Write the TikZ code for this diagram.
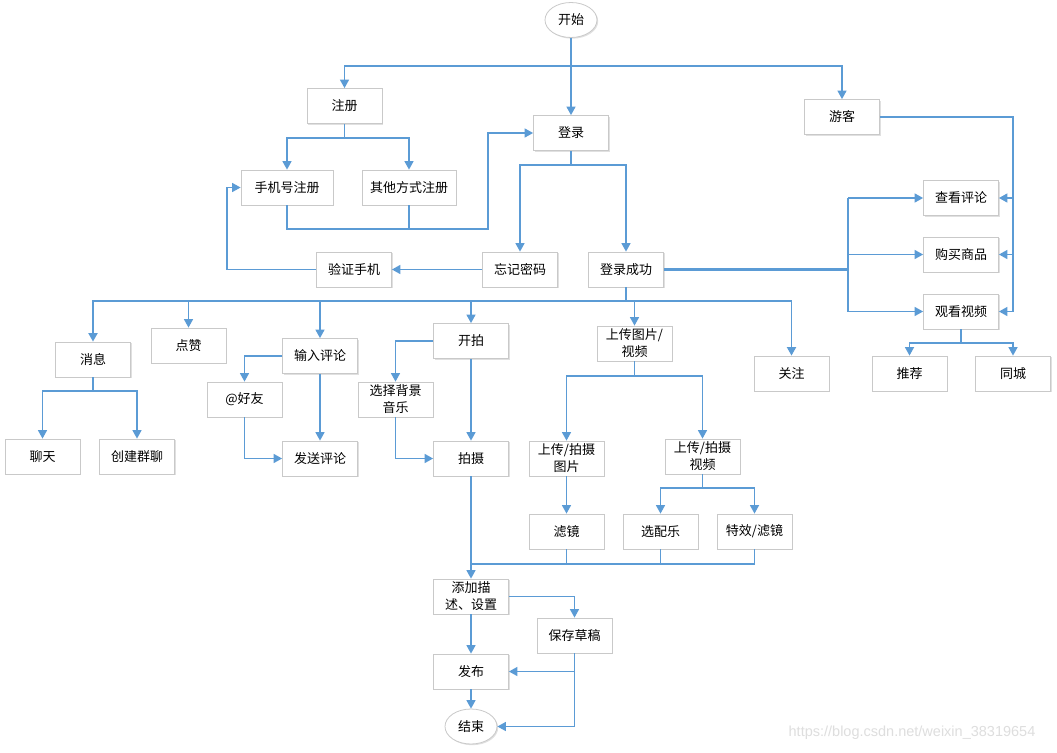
\documentclass[tikz,border=0pt]{standalone}
\usepackage{fontspec}
\setmainfont{Noto Sans CJK SC}
\newfontfamily\wmfont{Liberation Sans}
\usetikzlibrary{arrows.meta,shapes.geometric,shadows}
\definecolor{lineblue}{HTML}{5B9BD5}
\definecolor{boxgray}{HTML}{C9C9C9}
\tikzset{
  box/.style={draw=boxgray, line width=0.8pt, fill=white, minimum width=75pt, minimum height=35pt,
    inner sep=1pt, align=center, font=\fontsize{13}{17}\selectfont,
    drop shadow={shadow xshift=1.2pt, shadow yshift=-1.2pt, fill=black, opacity=0.12}},
  oval/.style={box, ellipse, minimum width=52pt, minimum height=35pt},
  conn/.style={draw=lineblue, line width=1.5pt},
  arr/.style={conn, -{Triangle[length=8.5pt,width=9pt]}},
}
\begin{document}
\begin{tikzpicture}[x=1pt,y=-1pt]
\useasboundingbox[fill=white] (0,0) rectangle (1057,752);
% nodes
\node[oval] (start) at (571,20) {开始};
\node[box] (reg) at (344.5,106) {注册};
\node[box] (login) at (571,133) {登录};
\node[box] (guest) at (842,117) {游客};
\node[box, minimum width=92pt] (phreg) at (287,187.5) {手机号注册};
\node[box, minimum width=94pt] (othreg) at (409,187.5) {其他方式注册};
\node[box] (verify) at (354,269.5) {验证手机};
\node[box] (forgot) at (520,269.5) {忘记密码};
\node[box] (succ) at (626,269.5) {登录成功};
\node[box] (viewc) at (961,198) {查看评论};
\node[box] (buy) at (961,254.5) {购买商品};
\node[box] (watch) at (961,311.5) {观看视频};
\node[box] (rec) at (909.5,373.5) {推荐};
\node[box] (city) at (1013,373.5) {同城};
\node[box] (follow) at (791.5,373.5) {关注};
\node[box] (msg) at (93,359.5) {消息};
\node[box] (like) at (188.5,345.5) {点赞};
\node[box] (input) at (320,356) {输入评论};
\node[box] (at) at (244.5,399.5) {@好友};
\node[box] (chat) at (42.5,456.5) {聊天};
\node[box] (group) at (137,456.5) {创建群聊};
\node[box] (send) at (320,458.5) {发送评论};
\node[box] (shoot) at (471,341) {开拍};
\node[box] (bgm) at (395.5,399.5) {选择背景\\音乐};
\node[box] (take) at (471,458.5) {拍摄};
\node[box] (upload) at (634.5,343.5) {上传图片/\\视频};
\node[box] (upimg) at (566.5,458.5) {上传/拍摄\\图片};
\node[box] (upvid) at (702.5,456.5) {上传/拍摄\\视频};
\node[box] (filter) at (566.5,531.5) {滤镜};
\node[box] (music) at (660.5,531.5) {选配乐};
\node[box] (fx) at (754.5,531.5) {特效/滤镜};
\node[box] (desc) at (471,596.5) {添加描\\述、设置};
\node[box] (draft) at (574.5,635.5) {保存草稿};
\node[box] (pub) at (471,671.5) {发布};
\node[oval] (fin) at (471,726.5) {结束};
% junction coordinates
\coordinate (s1) at (571,66);
\coordinate (r1) at (344.5,138);
\coordinate (r2) at (488,229);
\coordinate (l1) at (571,165);
\coordinate (g2) at (1013,311.5);
\coordinate (k) at (848,269.5);
\coordinate (w1) at (961,343);
\coordinate (b) at (626,301);
\coordinate (m1) at (93,391);
\coordinate (u1) at (634.5,376);
\coordinate (v1) at (702.5,488);
\coordinate (mg) at (471,564);
% connectors
\draw[arr] (start.south) -- (login.north);
\draw[arr] (s1) -| (reg.north);
\draw[arr] (s1) -| (guest.north);
\draw[conn] (reg.south) -- (r1);
\draw[arr] (r1) -| (phreg.north);
\draw[arr] (r1) -| (othreg.north);
\draw[arr] (phreg.south) |- (r2) |- (login.west);
\draw[conn] (othreg.south) -- (othreg.south |- r2);
\draw[conn] (login.south) -- (l1);
\draw[arr] (l1) -| (forgot.north);
\draw[arr] (l1) -| (succ.north);
\draw[arr] (forgot.west) -- (verify.east);
\draw[arr] (verify.west) -- ++(-89,0) |- (phreg.west);
\draw[conn] (guest.east) -| (g2);
\draw[arr] (g2 |- viewc.east) -- (viewc.east);
\draw[arr] (g2 |- buy.east) -- (buy.east);
\draw[arr] (g2) -- (watch.east);
\draw[conn, line width=2.2pt] (succ.east) -- (k);
\draw[conn] (k |- viewc.west) -- (k |- watch.west);
\draw[arr] (k |- viewc.west) -- (viewc.west);
\draw[arr] (k |- buy.west) -- (buy.west);
\draw[arr] (k |- watch.west) -- (watch.west);
\draw[conn] (watch.south) -- (w1);
\draw[arr] (w1) -| (rec.north);
\draw[arr] (w1) -| (city.north);
\draw[conn] (succ.south) -- (b);
\draw[arr, line width=1.8pt] (b) -| (msg.north);
\draw[arr] (b) -| (like.north);
\draw[arr] (b) -| (input.north);
\draw[arr] (b) -| (shoot.north);
\draw[arr] (b) -| (upload.north);
\draw[arr, line width=1.8pt] (b) -| (follow.north);
\draw[conn] (msg.south) -- (m1);
\draw[arr] (m1) -| (chat.north);
\draw[arr] (m1) -| (group.north);
\draw[arr] (input.west) -| (at.north);
\draw[arr] (at.south) |- (send.west);
\draw[arr] (input.south) -- (send.north);
\draw[arr] (shoot.west) -| (bgm.north);
\draw[arr] (bgm.south) |- (take.west);
\draw[arr] (shoot.south) -- (take.north);
\draw[conn] (upload.south) -- (u1);
\draw[arr] (u1) -| (upimg.north);
\draw[arr] (u1) -| (upvid.north);
\draw[arr] (upimg.south) -- (filter.north);
\draw[conn] (upvid.south) -- (v1);
\draw[arr] (v1) -| (music.north);
\draw[arr] (v1) -| (fx.north);
\draw[arr] (take.south) -- (desc.north);
\draw[conn] (filter.south) |- (mg);
\draw[conn] (music.south) |- (mg);
\draw[conn] (fx.south) |- (mg);
\draw[arr] (desc.east) -| (draft.north);
\draw[arr] (desc.south) -- (pub.north);
\draw[arr] (pub.south) -- (fin.north);
\draw[arr] (draft.south) |- (fin.east);
\draw[arr] (draft.south |- pub.east) -- (pub.east);
% watermark
\node[text=black!13, font=\wmfont\fontsize{14.5}{16}\selectfont, inner sep=0pt] (wm) at (912,733) {https://blog.csdn.net/weixin\_38319654};
\end{tikzpicture}
\end{document}
